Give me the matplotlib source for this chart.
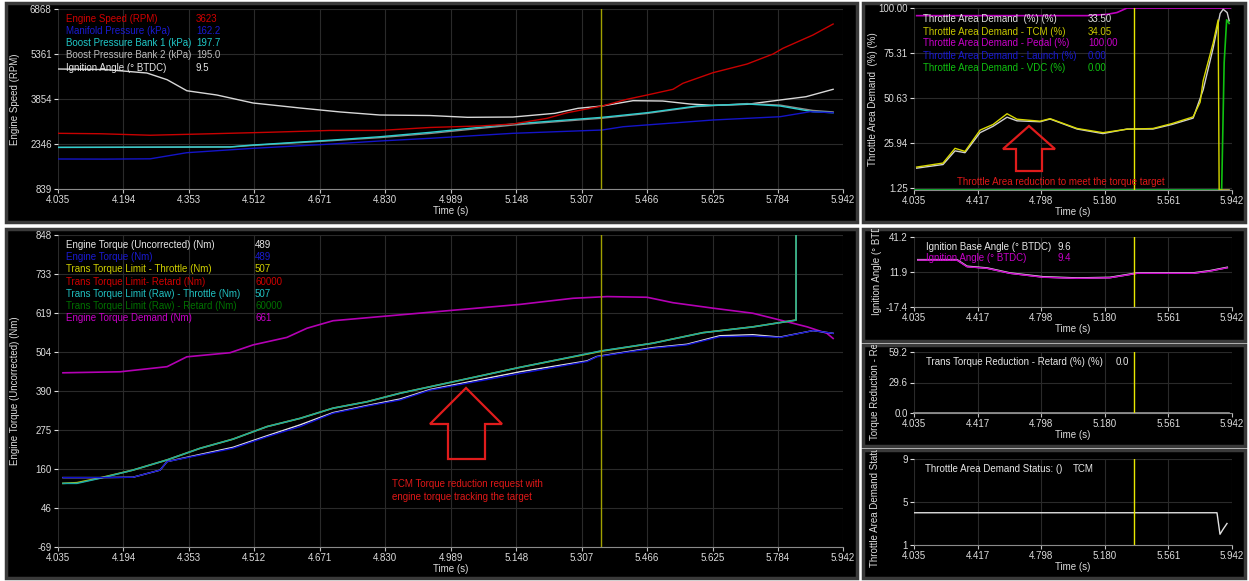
import matplotlib
matplotlib.use('Agg')
import matplotlib.pyplot as plt
from matplotlib.patches import Rectangle, Polygon
from matplotlib.transforms import Bbox, TransformedBbox

# ---------------- data ----------------
T0, T1 = 4.035, 5.942
CURSOR = 5.355

x_ticks_left = [4.035, 4.194, 4.353, 4.512, 4.671, 4.830, 4.989, 5.148, 5.307, 5.466, 5.625, 5.784, 5.942]
x_labels_left = ['4.035', '4.194', '4.353', '4.512', '4.671', '4.830', '4.989', '5.148', '5.307', '5.466', '5.625', '5.784', '5.942']
x_ticks_right = [4.035, 4.4164, 4.7978, 5.1792, 5.5606, 5.942]
x_labels_right = ['4.035', '4.417', '4.798', '5.180', '5.561', '5.942']

# top-left panel (Engine speed etc.)
speed_t = [4.035, 4.137, 4.259, 4.380, 4.550, 4.696, 4.817, 4.939, 5.060, 5.140, 5.223, 5.272, 5.357, 5.417, 5.466, 5.529, 5.553, 5.626, 5.709, 5.772, 5.796, 5.869, 5.918]
speed_v = [2704, 2690, 2640, 2680, 2740, 2800, 2800, 2900, 2950, 3016, 3206, 3394, 3619, 3843, 3987, 4178, 4379, 4734, 5025, 5360, 5551, 5997, 6365]
map_t = [4.035, 4.150, 4.259, 4.348, 4.509, 4.680, 4.817, 4.939, 5.140, 5.357, 5.408, 5.626, 5.789, 5.862, 5.918]
map_v = [1844, 1840, 1850, 2055, 2202, 2330, 2447, 2537, 2704, 2815, 2925, 3150, 3260, 3428, 3394]
boost_t = [4.035, 4.200, 4.453, 4.509, 4.703, 4.817, 4.939, 5.140, 5.357, 5.466, 5.587, 5.709, 5.789, 5.869, 5.918]
boost1_v = [2235, 2240, 2250, 2313, 2480, 2590, 2737, 3016, 3240, 3395, 3619, 3686, 3619, 3428, 3394]
boost2_v = [2230, 2235, 2245, 2300, 2460, 2560, 2700, 2980, 3210, 3370, 3600, 3700, 3650, 3470, 3420]
ign_tl_t = [4.035, 4.150, 4.251, 4.300, 4.348, 4.421, 4.509, 4.623, 4.720, 4.817, 4.939, 5.030, 5.140, 5.242, 5.298, 5.357, 5.432, 5.504, 5.570, 5.626, 5.709, 5.789, 5.852, 5.918]
ign_tl_v = [4858, 4840, 4724, 4500, 4130, 3987, 3719, 3552, 3420, 3317, 3300, 3240, 3250, 3374, 3541, 3619, 3797, 3786, 3686, 3641, 3675, 3820, 3930, 4178]
tl_yticks = [839, 2346.25, 3853.5, 5360.75, 6868]
tl_ylabels = ['839', '2346', '3854', '5361', '6868']

# bottom-left panel (torque)
demand_t = [4.047, 4.186, 4.300, 4.348, 4.453, 4.509, 4.591, 4.640, 4.703, 4.939, 5.157, 5.286, 5.369, 5.466, 5.529, 5.626, 5.723, 5.806, 5.855, 5.903, 5.918]
demand_v = [443, 446, 461, 490, 502, 525, 547, 574, 596, 621, 644, 662, 667, 665, 649, 633, 618, 593, 578, 559, 544]
limit_t = [4.047, 4.081, 4.137, 4.217, 4.300, 4.380, 4.460, 4.543, 4.623, 4.703, 4.786, 4.866, 4.939, 5.157, 5.357, 5.480, 5.602, 5.723, 5.828, 5.8281, 5.918]
limit_raw_v = [118, 118, 133, 157, 187, 221, 248, 285, 309, 339, 358, 383, 402, 459, 508, 530, 561, 578, 598, 60000, 60000]
limit_thr_v = [118, 120, 134, 157, 187, 221, 248, 285, 309, 339, 358, 383, 402, 459, 507, 530, 561, 578, 598, 60000, 60000]
retard_t = [4.035, 5.942]
limit_retard_v = [60000, 60000]
limit_raw_retard_v = [60000, 60000]
torque_t = [4.047, 4.137, 4.217, 4.283, 4.300, 4.380, 4.460, 4.543, 4.623, 4.703, 4.786, 4.866, 4.939, 5.157, 5.320, 5.344, 5.480, 5.563, 5.643, 5.723, 5.789, 5.869, 5.918]
torque_v = [135, 135, 136, 157, 182, 201, 221, 255, 285, 324, 345, 363, 392, 441, 476, 490, 515, 525, 549, 551, 547, 567, 559]
torque_unc_v = [135, 135, 136, 157, 182, 203, 224, 258, 290, 326, 347, 366, 394, 446, 478, 491, 517, 527, 552, 555, 548, 567, 559]
bl_yticks = [-69, 45.6, 160.3, 274.9, 389.5, 504.1, 618.8, 733.4, 848]
bl_ylabels = ['-69', '46', '160', '275', '390', '504', '619', '733', '848']

# top-right panel (throttle area demand)
tcm_t = [4.051, 4.209, 4.281, 4.341, 4.431, 4.509, 4.593, 4.653, 4.791, 4.851, 5.013, 5.168, 5.313, 5.468, 5.582, 5.709, 5.751, 5.769, 5.829, 5.859, 5.865, 5.925]
tcm_v = [12.6, 14.8, 22.9, 21.2, 32.9, 36.0, 41.9, 38.9, 37.8, 39.2, 33.8, 31.5, 33.4, 33.8, 36.5, 40.2, 48.3, 60.0, 80.8, 93.5, 0.0, 0.0]
tad_t = [4.051, 4.209, 4.281, 4.341, 4.431, 4.509, 4.593, 4.653, 4.791, 4.851, 5.013, 5.168, 5.313, 5.468, 5.582, 5.709, 5.769, 5.829, 5.871, 5.889, 5.913, 5.925]
tad_v = [12.0, 14.0, 21.5, 20.5, 31.5, 35.0, 40.0, 38.0, 37.5, 39.0, 33.5, 31.0, 33.5, 33.5, 36.0, 39.5, 55.0, 78.0, 97.0, 99.3, 97.5, 93.0]
pedal_t = [4.051, 5.072, 5.192, 5.252, 5.313, 5.931]
pedal_v = [95.8, 95.8, 96.5, 97.5, 100.0, 100.0]
launch_t = [4.035, 5.925]
launch_v = [0.0, 0.0]
vdc_t = [4.035, 5.880, 5.895, 5.910, 5.925]
vdc_v = [0.0, 0.0, 70.0, 93.5, 91.5]
tr_yticks = [1.25, 25.94, 50.625, 75.31, 100.0]
tr_ylabels = ['1.25', '25.94', '50.63', '75.31', '100.00']

# right panel 1 (ignition)
ign_t = [4.059, 4.293, 4.353, 4.473, 4.611, 4.809, 5.013, 5.210, 5.312, 5.372, 5.708, 5.811, 5.913]
ign_v = [21.9, 21.9, 16.3, 15.0, 10.8, 7.5, 6.6, 7.1, 9.4, 10.8, 10.8, 12.7, 15.5]
ign_base_v = [22.1, 22.1, 16.6, 15.2, 11.0, 7.8, 6.8, 7.3, 9.6, 11.0, 11.0, 12.9, 15.7]
r1_yticks = [-17.4, 11.9, 41.2]
r1_ylabels = ['-17.4', '11.9', '41.2']

# right panel 2 (trans torque reduction)
retard_red_t = [4.035, 5.925]
retard_red_v = [0.0, 0.0]
r2_yticks = [0.0, 29.6, 59.2]
r2_ylabels = ['0.0', '29.6', '59.2']

# right panel 3 (status)
status_t = [4.035, 5.852, 5.870, 5.890, 5.912]
status_v = [4.0, 4.0, 2.0, 2.5, 3.0]
r3_yticks = [1, 5, 9]
r3_ylabels = ['1', '5', '9']

# ---------------- figure ----------------
W, H = 1249, 581
plt.rcParams['font.family'] = ['Liberation Sans', 'DejaVu Sans']
fig = plt.figure(figsize=(W / 100, H / 100), dpi=100, facecolor='white')

TXT = '#dcdcdc'
FS = 7


def fx(x):
    return x / W


def fy(y):
    return 1 - y / H


def panel(x0, y0, x1, y1):
    r = Rectangle((fx(x0), fy(y1)), (x1 - x0) / W, (y1 - y0) / H, transform=fig.transFigure,
                  facecolor='black', edgecolor='#3a3a3a', lw=2.5, zorder=-10)
    fig.add_artist(r)
    return TransformedBbox(Bbox.from_extents(fx(x0), fy(y1), fx(x1), fy(y0)), fig.transFigure)


def make_ax(x0, y0, x1, y1, xt, xl, yt, yl, ylim):
    ax = fig.add_axes([fx(x0), fy(y1), (x1 - x0) / W, (y1 - y0) / H])
    ax.set_facecolor('black')
    ax.set_xlim(T0, T1)
    ax.set_ylim(*ylim)
    ax.set_xticks(xt)
    ax.set_xticklabels(xl)
    ax.set_yticks(yt)
    ax.set_yticklabels(yl)
    ax.grid(True, color='#2a2a2a', lw=0.8)
    ax.set_axisbelow(True)
    for s in ['top', 'right', 'left']:
        ax.spines[s].set_visible(False)
    ax.spines['bottom'].set_color('#8a8a8a')
    ax.tick_params(colors=TXT, labelsize=FS, length=3, width=0.8, pad=1.5)
    ax.tick_params(axis='x', colors='#bdbdbd', labelcolor=TXT)
    ax.set_xlabel('Time (s)', color=TXT, fontsize=FS, labelpad=0.5)
    return ax


def legend_rows(x_lab, x_val, ys, labels, values, colors):
    for y, lab, val, c in zip(ys, labels, values, colors):
        fig.text(fx(x_lab), fy(y), lab, color=c, fontsize=FS, va='center', ha='left')
        fig.text(fx(x_val), fy(y), val, color=c, fontsize=FS, va='center', ha='left')


def ylab(text, x, y_bottom, clip):
    t = fig.text(fx(x), fy(y_bottom), text, rotation=90, color=TXT, fontsize=FS,
                 ha='center', va='bottom')
    t.set_clip_on(True)
    t.set_clip_box(clip)


# panels
c_tl = panel(6, 3, 857, 222)
c_bl = panel(6, 229, 857, 578)
c_tr = panel(863, 3, 1245, 222)
c_r1 = panel(863, 229, 1245, 341)
c_r2 = panel(863, 345, 1245, 446)
c_r3 = panel(863, 450, 1245, 578)

# ---- top-left ----
ax = make_ax(58, 9, 843, 189, x_ticks_left, x_labels_left, tl_yticks, tl_ylabels, (839, 6868))
ax.plot(ign_tl_t, ign_tl_v, color='#d8d8d8', lw=1)
ax.plot(boost_t, boost2_v, color='#8c8c8c', lw=1)
ax.plot(boost_t, boost1_v, color='#2ccfcf', lw=1)
ax.plot(map_t, map_v, color='#1414c8', lw=1)
ax.plot(speed_t, speed_v, color='#c80000', lw=1)
ax.axvline(CURSOR, color='#a0a000', lw=1)
ax.set_ylabel('Engine Speed (RPM)', color=TXT, fontsize=FS)
ax.yaxis.set_label_coords(-0.048, 0.5)
legend_rows(66, 196, [19, 31.5, 43.5, 55.5, 68],
            ['Engine Speed (RPM)', 'Manifold Pressure (kPa)', 'Boost Pressure Bank 1 (kPa)',
             'Boost Pressure Bank 2 (kPa)', 'Ignition Angle (° BTDC)'],
            ['3623', '162.2', '197.7', '195.0', '9.5'],
            ['#d00000', '#1a1ad0', '#20c8c8', '#bdbdbd', '#e6e6e6'])

# ---- bottom-left ----
ax = make_ax(58, 235, 843, 547, x_ticks_left, x_labels_left, bl_yticks, bl_ylabels, (-69, 848))
ax.plot(retard_t, limit_retard_v, color='#d00000', lw=1)
ax.plot(retard_t, limit_raw_retard_v, color='#006a00', lw=1)
ax.plot(demand_t, demand_v, color='#b400b4', lw=1.2)
ax.plot(limit_t, limit_thr_v, color='#c8c800', lw=1.2)
ax.plot(limit_t, limit_raw_v, color='#1aa8a8', lw=1.1)
ax.plot(torque_t, torque_unc_v, color='#e0e0e0', lw=1)
ax.plot(torque_t, torque_v, color='#1010d0', lw=1)
ax.axvline(CURSOR, color='#a0a000', lw=1)
ax.set_ylabel('Engine Torque (Uncorrected) (Nm)', color=TXT, fontsize=FS)
ax.yaxis.set_label_coords(-0.048, 0.5)
legend_rows(66, 255, [245, 257.3, 269.5, 281.7, 294, 306, 318.3],
            ['Engine Torque (Uncorrected) (Nm)', 'Engine Torque (Nm)', 'Trans Torque Limit - Throttle (Nm)',
             'Trans Torque Limit- Retard (Nm)', 'Trans Torque Limit (Raw) - Throttle (Nm)',
             'Trans Torque Limit (Raw) - Retard (Nm)', 'Engine Torque Demand (Nm)'],
            ['489', '489', '507', '60000', '507', '60000', '661'],
            ['#e6e6e6', '#1a1ad0', '#d0d000', '#d00000', '#20c0c0', '#007000', '#c800c8'])

# annotation arrow + text bottom-left
arrow_bl = [(466, 388), (502, 424), (485, 424), (485, 459), (448, 459), (448, 424), (430, 424)]
fig.add_artist(Polygon([(fx(a), fy(b)) for a, b in arrow_bl], closed=True, fill=False,
                       edgecolor='#e01c1c', lw=1.6, transform=fig.transFigure))
fig.text(fx(392), fy(484), 'TCM Torque reduction request with', color='#e01818', fontsize=FS, va='center')
fig.text(fx(392), fy(497), 'engine torque tracking the target', color='#e01818', fontsize=FS, va='center')

# ---- top-right ----
ax = make_ax(914, 8, 1232, 190, x_ticks_right, x_labels_right, tr_yticks, tr_ylabels, (0, 100))
ax.plot(launch_t, launch_v, color='#1010d0', lw=1.2)
ax.plot(vdc_t, vdc_v, color='#10c010', lw=1.2)
ax.plot(pedal_t, pedal_v, color='#c000c0', lw=1.2)
ax.plot(tad_t, tad_v, color='#d0d0d0', lw=1)
ax.plot(tcm_t, tcm_v, color='#d8d800', lw=1)
ax.axvline(CURSOR, color='#e8e800', lw=1)
ax.set_ylabel('Throttle Area Demand  (%) (%)', color=TXT, fontsize=FS)
ax.yaxis.set_label_coords(-0.112, 0.5)
legend_rows(923, 1088, [19, 31.7, 43.5, 55.7, 68.2],
            ['Throttle Area Demand  (%) (%)', 'Throttle Area Demand - TCM (%)', 'Throttle Area Demand - Pedal (%)',
             'Throttle Area Demand - Launch (%)', 'Throttle Area Demand - VDC (%)'],
            ['33.50', '34.05', '100.00', '0.00', '0.00'],
            ['#e0e0e0', '#c8c800', '#c800c8', '#1a1ad0', '#10c010'])
arrow_tr = [(1029, 126), (1055, 149), (1042, 149), (1042, 171), (1016, 171), (1016, 149), (1003, 149)]
fig.add_artist(Polygon([(fx(a), fy(b)) for a, b in arrow_tr], closed=True, fill=False,
                       edgecolor='#e01c1c', lw=1.6, transform=fig.transFigure))
fig.text(fx(957), fy(181.5), 'Throttle Area reduction to meet the torque target', color='#e01818',
         fontsize=FS, va='center')

# ---- right panel 1 ----
ax = make_ax(914, 237, 1232, 307, x_ticks_right, x_labels_right, r1_yticks, r1_ylabels, (-17.4, 41.2))
ax.plot(ign_t, ign_base_v, color='#e6e6e6', lw=1.3)
ax.plot(ign_t, ign_v, color='#c800c8', lw=1)
ax.axvline(CURSOR, color='#e8e800', lw=1)
ylab('Ignition Angle (° BTDC)', 877, 315, c_r1)
legend_rows(926, 1058, [247, 258.5],
            ['Ignition Base Angle (° BTDC)', 'Ignition Angle (° BTDC)'],
            ['9.6', '9.4'], ['#e6e6e6', '#c800c8'])

# ---- right panel 2 ----
ax = make_ax(914, 352, 1232, 413, x_ticks_right, x_labels_right, r2_yticks, r2_ylabels, (0.0, 59.2))
ax.plot(retard_red_t, retard_red_v, color='#9a9a9a', lw=1.2, clip_on=False)
ax.axvline(CURSOR, color='#e8e800', lw=1)
ylab('Torque Reduction - Retard', 875.5, 440, c_r2)
legend_rows(926, 1116, [362], ['Trans Torque Reduction - Retard (%) (%)'], ['0.0'], ['#e6e6e6'])

# ---- right panel 3 ----
ax = make_ax(914, 459, 1232, 545, x_ticks_right, x_labels_right, r3_yticks, r3_ylabels, (1, 9))
ax.plot(status_t, status_v, color='#e0e0e0', lw=1)
ax.axvline(CURSOR, color='#e8e800', lw=1)
ylab('Throttle Area Demand Status', 874.5, 567, c_r3)
legend_rows(925, 1073, [469], ['Throttle Area Demand Status: ()'], ['TCM'], ['#e6e6e6'])

fig.savefig('out.png', dpi=100, facecolor='white')
